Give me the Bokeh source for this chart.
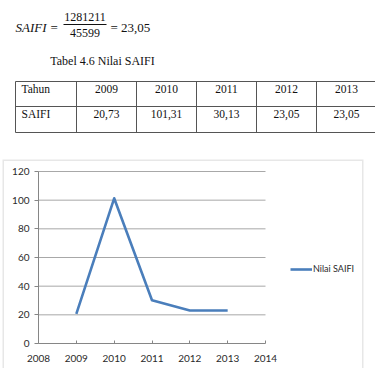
from bokeh.plotting import figure
from bokeh.layouts import column
from bokeh.models import (Range1d, FixedTicker, Legend, LegendItem, Column, LinearAxis,
                          BoxAnnotation)
from bokeh.core.properties import value
from bokeh.embed import file_html
from bokeh.resources import INLINE

# SAIFI per year
years = [2009, 2010, 2011, 2012, 2013]
saifi = [20.73, 101.31, 30.13, 23.05, 23.05]

# formula parts
formula_name = "SAIFI"
numerator = 1281211
denominator = 45599
result = 23.05

caption = "Tabel 4.6 Nilai SAIFI"
row_labels = ["Tahun", "SAIFI"]
series_name = "Nilai SAIFI"

x_ticks = [2008, 2009, 2010, 2011, 2012, 2013, 2014]
y_ticks = [0, 20, 40, 60, 80, 100, 120]


def fmt(v):
    return f"{v:.2f}".replace(".", ",")


W = 375
TOP_H = 159
CHART_H = 368 - TOP_H

serif = value("Liberation Serif")

# ---- formula, caption and table ----
top = figure(width=W, height=TOP_H, x_range=Range1d(0, W), y_range=Range1d(TOP_H, 0),
             output_backend="svg", toolbar_location=None, min_border=0)
top.axis.visible = False
top.grid.visible = False
top.outline_line_color = None

top.text(x=[15], y=[27], text=[formula_name], text_font=serif, text_font_style="italic",
         text_font_size="13px", text_baseline="middle", text_color="#111")
top.text(x=[50], y=[27], text=["="], text_font=serif, text_font_size="13px",
         text_baseline="middle", text_color="#111")
top.text(x=[84.5], y=[16], text=[str(numerator)], text_font=serif, text_font_size="12px",
         text_baseline="middle", text_align="center", text_color="#111")
top.segment(x0=[63], y0=[24], x1=[106], y1=[24], line_color="#111", line_width=1)
top.text(x=[84.5], y=[32], text=[str(denominator)], text_font=serif, text_font_size="12px",
         text_baseline="middle", text_align="center", text_color="#111")
top.text(x=[110], y=[27], text=["= " + fmt(result)], text_font=serif, text_font_size="13px",
         text_baseline="middle", text_color="#111")

top.text(x=[102], y=[60], text=[caption], text_font=serif, text_font_size="12px",
         text_baseline="middle", text_align="center", text_color="#111")

# table grid
col_edges = [15] + [76 + 60 * i for i in range(len(years) + 1)]
row_edges = [81, 106, 132]
top.segment(x0=[col_edges[0]] * 3, y0=row_edges, x1=[col_edges[-1]] * 3, y1=row_edges,
            line_color="#555", line_width=1)
top.segment(x0=col_edges, y0=[row_edges[0]] * len(col_edges), x1=col_edges,
            y1=[row_edges[-1]] * len(col_edges), line_color="#555", line_width=1)

# table texts
top.text(x=[21, 21], y=[88, 113], text=row_labels, text_font=serif, text_font_size="11.5px",
         text_baseline="middle", text_color="#111")
centers = [(col_edges[i + 1] + col_edges[i + 2]) / 2 for i in range(len(years))]
top.text(x=centers, y=[88] * len(years), text=[str(y) for y in years], text_font=serif,
         text_font_size="11.5px", text_baseline="middle", text_align="center", text_color="#111")
top.text(x=centers, y=[113] * len(years), text=[fmt(v) for v in saifi], text_font=serif,
         text_font_size="11.5px", text_baseline="middle", text_align="center", text_color="#111")

# ---- line chart ----
# the frame is the whole chart area; the plot area inside it is set by the ranges
FRAME_L, FRAME_R = 2, 363          # px
PLOT_L, PLOT_R = 38, 265           # px of first / last x tick
PLOT_T, PLOT_B = 171 - TOP_H, 343 - TOP_H
px_x = (PLOT_R - PLOT_L) / (x_ticks[-1] - x_ticks[0])
px_y = (PLOT_B - PLOT_T) / (y_ticks[-1] - y_ticks[0])
x_range = Range1d(x_ticks[0] - (PLOT_L - FRAME_L) / px_x, x_ticks[-1] + (FRAME_R - PLOT_R) / px_x)
y_range = Range1d(y_ticks[0] - (CHART_H - PLOT_B) / px_y, y_ticks[-1] + PLOT_T / px_y)

p = figure(width=W, height=CHART_H, x_range=x_range, y_range=y_range,
           output_backend="svg", toolbar_location=None,
           x_axis_location=None, y_axis_location=None,
           min_border_left=FRAME_L, min_border_right=W - FRAME_R,
           min_border_top=0, min_border_bottom=0)
p.outline_line_color = None
p.grid.visible = False
p.background_fill_color = "white"

# horizontal gridlines
p.segment(x0=x_ticks[0], x1=x_ticks[-1], y0=y_ticks[1:], y1=y_ticks[1:],
          line_color="#a8a8a8", line_width=1)

r = p.line(years, saifi, line_color="#4a7ebb", line_width=2.6, line_join="round")

xaxis = LinearAxis(fixed_location=y_ticks[0], bounds=(x_ticks[0], x_ticks[-1]),
                   ticker=FixedTicker(ticks=x_ticks))
yaxis = LinearAxis(fixed_location=x_ticks[0], bounds=(y_ticks[0], y_ticks[-1]),
                   ticker=FixedTicker(ticks=y_ticks))
for ax in (xaxis, yaxis):
    ax.axis_line_color = "#868686"
    ax.major_tick_line_color = "#868686"
    ax.minor_tick_line_color = None
    ax.major_label_text_font = "Lato"
    ax.major_label_text_font_size = "10px"
    ax.major_label_text_color = "#2a2a2a"
xaxis.major_tick_in = 3
xaxis.major_tick_out = 0
xaxis.major_label_standoff = 11
yaxis.major_tick_in = 0
yaxis.major_tick_out = 4
yaxis.major_label_standoff = 5
p.add_layout(xaxis, "below")
p.add_layout(yaxis, "left")

legend = Legend(items=[LegendItem(label=series_name, renderers=[r])],
                location=(288, 94), glyph_width=22, glyph_height=10, label_standoff=1,
                padding=0, margin=0, border_line_color=None, background_fill_alpha=0,
                label_text_font="Lato", label_text_font_size="9px", label_text_color="#2a2a2a")
p.add_layout(legend)

# grey frame around the chart area (open at the bottom edge of the page)
p.add_layout(BoxAnnotation(bottom=y_range.start - 50, fill_alpha=0,
                           line_color="#b0b0b0", line_width=3))

layout = column(Column(children=[top]), Column(children=[p]), spacing=0)
open("out.html", "w").write(file_html(layout, INLINE))
